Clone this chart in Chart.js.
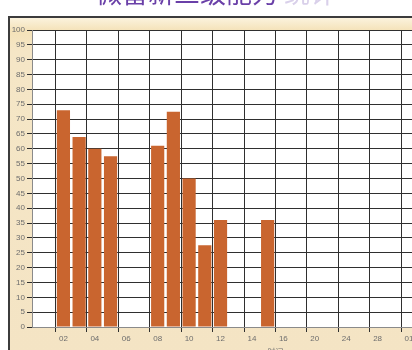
<!DOCTYPE html>
<html>
<head>
<meta charset="utf-8">
<script src="https://cdn.jsdelivr.net/npm/chart.js@4.4.1/dist/chart.umd.min.js"></script>
<style>
  html, body { margin:0; padding:0; overflow:hidden; background:#fff; width:412px; height:350px; }
  #wrap { position:absolute; left:0; top:0; width:540px; height:360px; }
</style>
</head>
<body>
<div id="wrap"><canvas id="chart" width="540" height="360"></canvas></div>
<script>
// title is cut off at the top of the picture, only the lower half shows
const titleText = '微雷新三级能力';
const titleTail = '统计';
const axisTitle = '时间';

const categories = ['00','01','02','03','04','05','06','07','08','09','10','11','12','13','14','15','16',
                    '18','20','22','24','26','28','30','01','02','03','04','05','06','07','08'];
const values = [null, null, 73, 64, 60, 57.5, null, null, 61, 72.5, 50, 27.5, 36, null, null, 36, null,
                null, null, null, null, null, null, null, null, null, null, null, null, null, null, null];
const yMin = 0, yMax = 100, yStep = 5;

const barColor = '#c9652f';
const gridColor = '#2f2f2f';
const tickColor = '#6d6d6d';

// beige frame, white plot and the clipped title
const framePlugin = {
  id: 'frame',
  beforeDraw(chart) {
    const { ctx, width, height, chartArea: a } = chart;
    ctx.save();
    const g = ctx.createLinearGradient(0, 17, 0, height);
    g.addColorStop(0, '#fcf4e0');
    g.addColorStop(0.04, '#f4e2b8');
    g.addColorStop(0.1, '#f5e6c6');
    g.addColorStop(1, '#f4e4c4');
    ctx.fillStyle = g;
    ctx.fillRect(9, 17, width, height);
    ctx.strokeStyle = '#3c3c3c';
    ctx.lineWidth = 2;
    ctx.strokeRect(9, 17, width + 10, height + 10);
    ctx.fillStyle = '#fff';
    ctx.fillRect(a.left, a.top, a.right - a.left, a.bottom - a.top);

    ctx.font = '26px "Noto Sans CJK SC"';
    ctx.textBaseline = 'middle';
    ctx.fillStyle = '#6a40a8';
    ctx.fillText(titleText, 96, -7);
    const w = ctx.measureText(titleText).width;
    ctx.fillStyle = '#d9d0ea';
    ctx.fillText(titleTail, 96 + w + 6, -7);
    ctx.restore();
  }
};

new Chart(document.getElementById('chart'), {
  type: 'bar',
  data: {
    labels: categories,
    datasets: [{
      data: values,
      backgroundColor: barColor,
      borderWidth: 0,
      barPercentage: 0.84,
      categoryPercentage: 1
    }]
  },
  options: {
    responsive: false,
    animation: false,
    devicePixelRatio: 1,
    layout: { padding: { top: 30, right: 21, left: 0, bottom: 0 } },
    plugins: { legend: { display: false }, tooltip: { enabled: false }, title: { display: false } },
    scales: {
      x: {
        offset: false,
        grid: { color: c => (c.index % 2 === 0 ? gridColor : 'rgba(0,0,0,0)'), tickLength: 5 },
        border: { color: '#8a8a8a' },
        ticks: {
          autoSkip: false, maxRotation: 0, padding: 2, color: tickColor,
          font: { family: 'Liberation Sans', size: 8 },
          callback: (v, i) => (i > 0 && i % 2 === 0 ? categories[i] : '')
        },
        title: {
          display: true, text: axisTitle, color: tickColor,
          font: { family: 'Noto Sans CJK SC', size: 8 },
          padding: { top: 0, bottom: 3 }
        },
        afterFit: s => { s.height = 33; }
      },
      y: {
        min: yMin, max: yMax,
        grid: { color: gridColor, tickLength: 5 },
        border: { color: '#8a8a8a' },
        ticks: {
          stepSize: yStep, padding: 2, color: tickColor,
          font: { family: 'Liberation Sans', size: 8 }
        },
        afterFit: s => { s.width = 32; }
      }
    }
  },
  plugins: [framePlugin]
});
</script>
</body>
</html>
